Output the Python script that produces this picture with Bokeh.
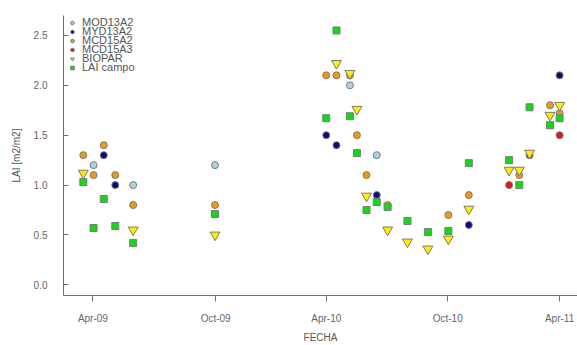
import pandas as pd
from bokeh.plotting import figure
from bokeh.models import (FixedTicker, NumeralTickFormatter, DatetimeTickFormatter,
                          Range1d, Legend, LegendItem)
from bokeh.embed import file_html
from bokeh.resources import INLINE

# ---------------- data ----------------
mod13a2_dates = ["2009-04-02", "2009-06-03", "2009-10-09", "2010-05-08", "2010-06-19"]
mod13a2_vals = [1.20, 1.00, 1.20, 2.00, 1.30]

myd13a2_dates = ["2009-04-18", "2009-05-06", "2010-04-01", "2010-04-17", "2010-06-19",
                 "2010-11-10", "2011-04-01"]
myd13a2_vals = [1.30, 1.00, 1.50, 1.40, 0.90, 0.60, 2.10]

mcd15a2_dates = ["2009-03-17", "2009-04-02", "2009-04-18", "2009-05-06", "2009-06-03",
                 "2009-10-09", "2010-04-01", "2010-04-17", "2010-05-08", "2010-05-19",
                 "2010-06-03", "2010-07-06", "2010-10-09", "2010-11-10", "2011-01-28",
                 "2011-03-17", "2011-04-01"]
mcd15a2_vals = [1.30, 1.10, 1.40, 1.10, 0.80, 0.80, 2.10, 2.10, 2.10, 1.50,
                1.10, 0.80, 0.70, 0.90, 1.10, 1.80, 1.72]

mcd15a3_dates = ["2011-01-12", "2011-02-13", "2011-04-01"]
mcd15a3_vals = [1.00, 1.30, 1.50]

biopar_dates = ["2009-03-17", "2009-06-03", "2009-10-09", "2010-04-17", "2010-05-08",
                "2010-05-19", "2010-06-03", "2010-07-06", "2010-08-06", "2010-09-07",
                "2010-10-09", "2010-11-10", "2011-01-12", "2011-01-28", "2011-02-13",
                "2011-03-17", "2011-04-01"]
biopar_vals = [1.12, 0.55, 0.50, 2.22, 2.12, 1.76, 0.89, 0.55, 0.43, 0.36,
               0.46, 0.76, 1.15, 1.15, 1.32, 1.70, 1.80]

campo_dates = ["2009-03-17", "2009-04-02", "2009-04-18", "2009-05-06", "2009-06-03",
               "2009-10-09", "2010-04-01", "2010-04-17", "2010-05-08", "2010-05-19",
               "2010-06-03", "2010-06-19", "2010-07-06", "2010-08-06", "2010-09-07",
               "2010-10-09", "2010-11-10", "2011-01-12", "2011-01-28", "2011-02-13",
               "2011-03-17", "2011-04-01"]
campo_vals = [1.03, 0.57, 0.86, 0.59, 0.42, 0.71, 1.67, 2.55, 1.69, 1.32,
              0.75, 0.83, 0.78, 0.64, 0.53, 0.54, 1.22, 1.25, 1.00, 1.78,
              1.60, 1.67]

tick_dates = ["2009-04-01", "2009-10-10", "2010-04-01", "2010-10-08", "2011-04-01"]
tick_labels = ["Apr-09", "Oct-09", "Apr-10", "Oct-10", "Apr-11"]
y_ticks = [0.0, 0.5, 1.0, 1.5, 2.0, 2.5]


def ms(d):
    return pd.Timestamp(d).value / 1e6


FONT = "Liberation Sans"

p = figure(width=577, height=345, x_axis_type="datetime",
           output_backend="svg", toolbar_location=None,
           x_range=Range1d(ms("2009-02-14"), ms("2011-04-29")),
           y_range=Range1d(-0.107, 2.70),
           min_border_left=63, min_border_right=0, min_border_top=15,
           min_border_bottom=50)
p.outline_line_color = None
p.xgrid.visible = False
p.ygrid.visible = False

series = [
    ("MOD13A2", mod13a2_dates, mod13a2_vals, "circle", "#a9d2e3", 7),
    ("MYD13A2", myd13a2_dates, myd13a2_vals, "circle", "#0c0c80", 7),
    ("MCD15A2", mcd15a2_dates, mcd15a2_vals, "circle", "#f09a10", 7),
    ("MCD15A3", mcd15a3_dates, mcd15a3_vals, "circle", "#f01010", 7),
    ("BIOPAR", biopar_dates, biopar_vals, "inverted_triangle", "#ffee00", 10),
    ("LAI campo", campo_dates, campo_vals, "square", "#10dd10", 7),
]
# legend rows (screen offsets, px above frame bottom), one small legend per row
legend_rows = [267, 258, 249, 240, 231, 222]

for (name, dates, vals, marker, color, size), row_y in zip(series, legend_rows):
    r = p.scatter(x=pd.to_datetime(dates), y=vals, marker=marker, size=size,
                  fill_color=color, line_color="#7a7a7a", line_width=1)
    lg = Legend(items=[LegendItem(label=name, renderers=[r])], location=(4, row_y))
    lg.border_line_color = None
    lg.background_fill_alpha = 0
    lg.padding = 0
    lg.margin = 0
    lg.spacing = 0
    lg.glyph_width = 10
    lg.glyph_height = 9
    lg.label_height = 9
    lg.label_standoff = 5
    lg.label_text_font = FONT
    lg.label_text_font_size = "11px"
    lg.label_text_color = "#555555"
    p.add_layout(lg, "center")

# axes
xa = p.xaxis[0]
xa.ticker = FixedTicker(ticks=[ms(d) for d in tick_dates])
xa.major_label_overrides = {ms(d): lab for d, lab in zip(tick_dates, tick_labels)}
xa.formatter = DatetimeTickFormatter(days="%b-%y", months="%b-%y", years="%b-%y")
xa.minor_tick_line_color = None
xa.major_tick_out = 6
xa.major_tick_in = 0
xa.major_label_standoff = 11
xa.axis_label = "FECHA"
xa.axis_label_standoff = 5

ya = p.yaxis[0]
ya.ticker = FixedTicker(ticks=y_ticks)
ya.formatter = NumeralTickFormatter(format="0.0")
ya.minor_tick_line_color = None
ya.major_tick_out = 0
ya.major_tick_in = 5
ya.major_label_standoff = 16
ya.axis_label = "LAI [m2/m2]"
ya.axis_label_standoff = 9

for ax in (xa, ya):
    ax.axis_line_color = "#707070"
    ax.major_tick_line_color = "#707070"
    ax.major_label_text_font = FONT
    ax.major_label_text_font_size = "10px"
    ax.major_label_text_color = "#666666"
    ax.axis_label_text_font = FONT
    ax.axis_label_text_font_size = "10px"
    ax.axis_label_text_font_style = "normal"
    ax.axis_label_text_color = "#555555"

open("out.html", "w").write(file_html(p, INLINE))
